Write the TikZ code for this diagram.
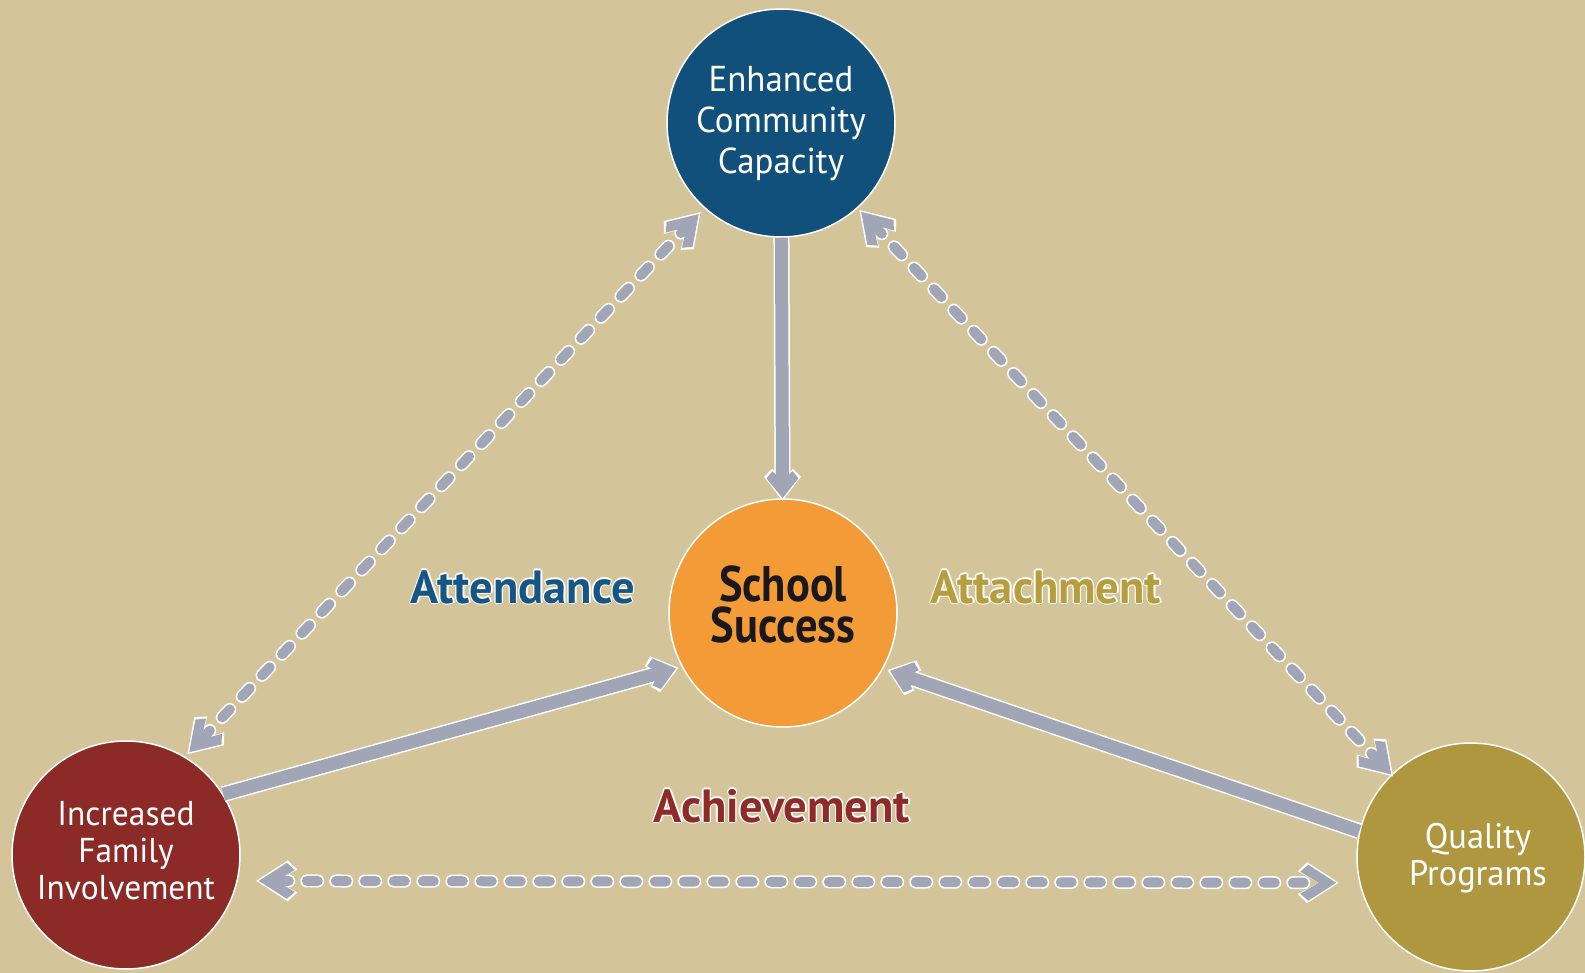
\documentclass[tikz,border=0pt]{standalone}
\usepackage{fontspec}
\setmainfont{PT Sans}
\newfontfamily\ptn[FakeStretch=0.89]{PT Sans}
\newfontfamily\ptc[FakeStretch=0.97]{PT Sans}
\usetikzlibrary{arrows.meta}
\definecolor{bg}{RGB}{211,196,153}
\definecolor{cblue}{RGB}{17,80,123}
\definecolor{corange}{RGB}{243,155,55}
\definecolor{cred}{RGB}{139,42,39}
\definecolor{colive}{RGB}{175,151,63}
\definecolor{arrgrey}{RGB}{161,166,183}
\definecolor{tblue}{RGB}{22,86,132}
\definecolor{tolive}{RGB}{182,157,62}
\definecolor{tred}{RGB}{142,43,42}
\definecolor{tdark}{RGB}{26,24,28}
% chevron arrow tips: #1 name, #2 colour, #3 line end, #4 back end,
% points: tip x, A=(#6,#7), B=(#8,#9), notch x #10
\newcommand\defchev[9]{%
\pgfdeclarearrow{
  name = #1,
  setup code = {
    \pgfarrowssettipend{0pt}
    \pgfarrowssetlineend{#3}
    \pgfarrowssetbackend{#4}
  },
  drawing code = {
    \pgfsetfillcolor{#2}
    \pgfpathmoveto{\pgfpoint{#5}{0pt}}
    \pgfpathlineto{\pgfpoint{#6}{#7}}
    \pgfpathlineto{\pgfpoint{#8}{#9}}
    \pgfpathlineto{\pgfpoint{\chevnotch}{0pt}}
    \pgfpathlineto{\pgfpoint{#8}{-#9}}
    \pgfpathlineto{\pgfpoint{#6}{-#7}}
    \pgfpathclose
    \pgfusepathqfill
  }
}}
\def\chevnotch{-23pt}
\defchev{ChevDG}{arrgrey}{-19pt}{-36pt}{0pt}{-28pt}{18pt}{-36pt}{11pt}
\def\chevnotch{-25.5pt}
\defchev{ChevDW}{white}{-19pt}{-38.5pt}{2.6pt}{-29pt}{20.5pt}{-38.5pt}{11.5pt}
\def\chevnotch{-15pt}
\defchev{ChevSG}{arrgrey}{-12pt}{-27pt}{0pt}{-20pt}{16pt}{-27pt}{10pt}
\def\chevnotch{-17.5pt}
\defchev{ChevSW}{white}{-12pt}{-29.5pt}{2.6pt}{-21.5pt}{18.5pt}{-29.5pt}{10.5pt}
\newcommand\halotxt[2]{\leavevmode
  \foreach \hx/\hy in {1.3/0,-1.3/0,0/1.3,0/-1.3,0.9/0.9,0.9/-0.9,-0.9/0.9,-0.9/-0.9}{\rlap{\hspace*{\hx pt}\raisebox{\hy pt}{\textcolor{white}{#2}}}}%
  \textcolor{#1}{#2}}
\begin{document}
\begin{tikzpicture}[x=1pt,y=-1pt,
  circ/.style={circle, minimum size=228pt, inner sep=0pt, draw=white, line width=1.5pt, align=center},
  lab/.style={anchor=base, inner sep=0pt, font={\bfseries\fontsize{46.5}{50}\selectfont}},
  solidarr/.style={draw=arrgrey, line width=13pt, -ChevSG,
    preaction={draw=white, line width=16pt, -ChevSW}},
  dasharr/.style={draw=arrgrey, line width=10pt, line cap=round, dash pattern=on 11pt off 18pt,
    ChevDG-ChevDG,
    preaction={draw=white, line width=13pt, line cap=round, dash pattern=on 11pt off 18pt,
      ChevDW-ChevDW}}
]
\fill[bg] (0,0) rectangle (1585,973);
\useasboundingbox (0,0) rectangle (1585,973);

% circles
\node[circ, fill=cblue, text=white, text depth=7pt,
      font={\ptc\fontsize{36}{41}\selectfont}] (top) at (781,123) {Enhanced\\Community\\Capacity};
\node[circ, fill=corange, text=tdark, text depth=17pt,
      font={\ptn\bfseries\fontsize{50}{41}\selectfont}] (center) at (783,613) {School\\Success};
\node[circ, fill=cred, text=white, text depth=8.5pt,
      font={\ptc\fontsize{34.5}{37}\selectfont}] (left) at (126,855) {Increased\\Family\\Involvement};
\node[circ, fill=colive, text=white, text depth=6pt,
      font={\ptc\fontsize{35.5}{37}\selectfont}] (right) at (1471,857) {\hspace*{14pt}Quality\\\hspace*{14pt}Programs};

% labels
\node[lab] (attend) at (523,603) {\halotxt{tblue}{Attendance}};
\node[lab] (attach) at (1046,603) {\halotxt{tolive}{Attachment}};
\node[lab] (achieve) at (782,822) {\halotxt{tred}{Achievement}};

% solid connectors
\draw[solidarr] (top) -- (center);
\draw[solidarr, shorten >=6pt] (left.32) -- (center.208);
\draw[solidarr, shorten >=7pt] (right.167) -- (center.331);

% dashed connectors
\draw[dasharr, shorten <=6pt, shorten >=8pt] (left.59) -- (top.228.6);
\draw[dasharr, shorten <=5pt] (top.312.6) -- (right.134);
\draw[dasharr, shorten <=21pt, shorten >=23pt] (left.-13.2) -- (right.193);
\end{tikzpicture}
\end{document}
